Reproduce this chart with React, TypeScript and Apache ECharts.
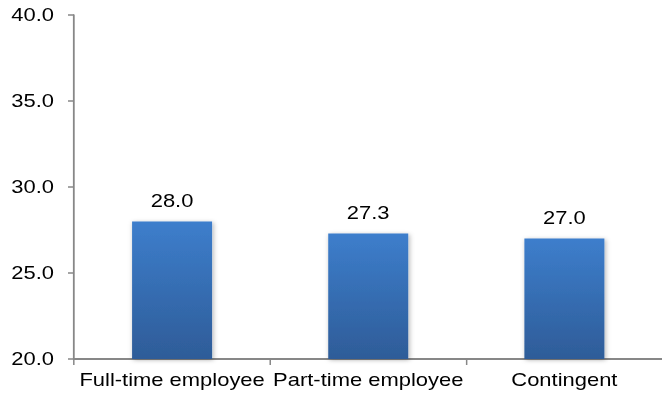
import React, { useEffect, useRef } from "react";
import * as echarts from "echarts";

const categories = ["Full-time employee", "Part-time employee", "Contingent"];
const values = [28.0, 27.3, 27.0];
const yMin = 20;
const yMax = 40;
const yStep = 5;

// The chart is laid out in a narrower box and widened horizontally,
// giving the slightly stretched look of the original export.
const STRETCH = 1.22;
const OUT_W = 662;
const OUT_H = 402;
const INNER_W = OUT_W / STRETCH;

export default function App() {
  const ref = useRef<HTMLDivElement>(null);

  useEffect(() => {
    document.body.style.margin = "0";
    const chart = echarts.init(ref.current!, null, { renderer: "svg" });
    const font = "'Liberation Sans', Arial, sans-serif";
    const axisGray = "#878787";
    const sx = (px: number) => px / STRETCH;
    chart.setOption({
      animation: false,
      backgroundColor: "#ffffff",
      grid: { left: sx(74), right: sx(-6), top: 15, bottom: 43, containLabel: false },
      xAxis: {
        type: "category",
        data: categories,
        axisLine: { show: true, lineStyle: { color: axisGray, width: 2 } },
        axisTick: { show: true, alignWithLabel: false, length: 6, lineStyle: { color: axisGray, width: sx(1.5) } },
        axisLabel: { color: "#000", fontFamily: font, fontSize: 18, margin: 12, interval: 0 },
        splitLine: { show: false },
      },
      yAxis: {
        type: "value",
        min: yMin,
        max: yMax,
        interval: yStep,
        axisLine: { show: true, lineStyle: { color: axisGray, width: sx(1.8) } },
        axisTick: { show: true, length: sx(6), lineStyle: { color: axisGray, width: 1.5 } },
        axisLabel: {
          color: "#000",
          fontFamily: font,
          fontSize: 18,
          margin: sx(20),
          formatter: (v: number) => v.toFixed(1),
          padding: [5, 0, 0, 0],
        },
        splitLine: { show: false },
      },
      series: [
        {
          type: "bar",
          data: values,
          barWidth: sx(80),
          itemStyle: {
            color: new echarts.graphic.LinearGradient(0, 0, 0, 1, [
              { offset: 0, color: "#3d7ecc" },
              { offset: 1, color: "#2e5c98" },
            ]),
            shadowBlur: 4,
            shadowColor: "rgba(0,0,0,0.3)",
            shadowOffsetX: 1,
            shadowOffsetY: 1,
          },
          label: {
            show: true,
            position: "top",
            distance: 12,
            color: "#000",
            fontFamily: font,
            fontSize: 18,
            formatter: (p: any) => Number(p.value).toFixed(1),
          },
        },
      ],
    });
    return () => chart.dispose();
  }, []);

  return (
    <div style={{ position: "absolute", left: 0, top: 0, width: OUT_W, height: OUT_H, overflow: "hidden" }}>
      <div
        ref={ref}
        style={{
          width: INNER_W,
          height: OUT_H,
          transform: `scaleX(${STRETCH})`,
          transformOrigin: "0 0",
        }}
      />
    </div>
  );
}
